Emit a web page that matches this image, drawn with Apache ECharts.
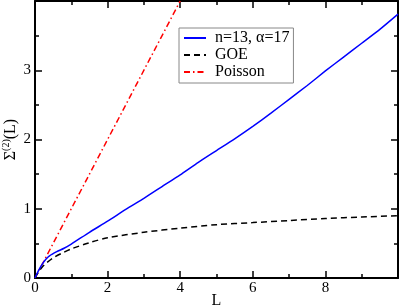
<!DOCTYPE html>
<html><head><meta charset="utf-8">
<script src="https://cdn.jsdelivr.net/npm/echarts@6/dist/echarts.min.js"></script>
<style>html,body{margin:0;padding:0;background:#fff;}#c{width:399px;height:308px;}</style>
</head><body><div id="c"></div>
<script>
const xTicks = [0, 2, 4, 6, 8];
const yTicks = [0, 1, 2, 3];
const blueL   = [0, 0.1, 0.2, 0.3, 0.4, 0.6, 0.8, 1.0, 1.5, 2.0, 2.5, 3.0, 3.5, 4.0, 4.5, 5.0, 5.5, 6.0, 6.5, 7.0, 7.5, 8.0, 8.5, 9.0, 9.5, 10.0];
const blueS   = [0, 0.11, 0.20, 0.27, 0.32, 0.38, 0.43, 0.49, 0.66, 0.82, 0.99, 1.15, 1.32, 1.49, 1.67, 1.84, 2.01, 2.19, 2.38, 2.58, 2.78, 2.99, 3.19, 3.39, 3.59, 3.81];
const goeL    = [0, 0.1, 0.2, 0.3, 0.5, 0.75, 1.0, 1.5, 2.0, 3.0, 4.0, 5.0, 6.0, 7.0, 8.0, 9.0, 10.0];
const goeS    = [0, 0.09, 0.16, 0.21, 0.29, 0.36, 0.42, 0.51, 0.58, 0.66, 0.72, 0.77, 0.80, 0.83, 0.86, 0.88, 0.90];
const poissonL = [0, 4];
const poissonS = [0, 4];
const names = ['n=13, α=17', 'GOE', 'Poisson'];

const zip = (a, b) => a.map((v, i) => [v, b[i]]);
const font = 'Liberation Serif';
const axisCommon = () => ({
  axisLine: {show: true, onZero: false, lineStyle: {color: '#000', width: 2}},
  axisTick: {show: true, inside: true, length: 7, lineStyle: {color: '#000', width: 1.5}},
  minorTick: {show: true, splitNumber: 2, length: 4, lineStyle: {color: '#000', width: 1.5}},
  splitLine: {show: false},
  minorSplitLine: {show: false},
});
const chart = echarts.init(document.getElementById('c'), null, {renderer: 'canvas'});
chart.setOption({
  animation: false,
  backgroundColor: '#fff',
  textStyle: {fontFamily: font},
  grid: {left: 35, right: 1, top: 1, bottom: 30, containLabel: false, outerBoundsMode: 'none'},
  xAxis: [
    Object.assign({type: 'value', min: 0, max: 10, interval: 2, position: 'bottom',
      name: 'L', nameLocation: 'middle', nameGap: 15, nameMoveOverlap: false,
      nameTextStyle: {fontFamily: font, fontSize: 16, color: '#000'},
      axisLabel: {show: true, margin: 3, fontFamily: font, fontSize: 15, color: '#000', showMaxLabel: false,
        formatter: v => xTicks.includes(v) ? String(v) : ''}}, axisCommon()),
    Object.assign({type: 'value', min: 0, max: 10, interval: 2, position: 'top', axisLabel: {show: false}}, axisCommon())
  ],
  yAxis: [
    Object.assign({type: 'value', min: 0, max: 4, interval: 1, position: 'left',
      name: '{s|Σ}{sup|(2)}{s|(L)}', nameLocation: 'middle', nameGap: 15, nameMoveOverlap: false,
      nameTextStyle: {fontFamily: font, fontSize: 16, color: '#000',
        rich: {s: {fontFamily: font, fontSize: 16, color: '#000'},
               sup: {fontFamily: font, fontSize: 10, color: '#000', padding: [0, 0, 9, 0]}}},
      axisLabel: {show: true, margin: 4, fontFamily: font, fontSize: 15, color: '#000', showMaxLabel: false,
        formatter: v => yTicks.includes(v) ? String(v) : ''}}, axisCommon()),
    Object.assign({type: 'value', min: 0, max: 4, interval: 1, position: 'right', axisLabel: {show: false}}, axisCommon())
  ],
  legend: {
    show: true, orient: 'vertical', left: 179, top: 28,
    backgroundColor: '#fff', borderColor: '#888', borderWidth: 1, borderRadius: 0,
    padding: [2, 4, 3, 4], itemWidth: 22, itemHeight: 14, itemGap: 1,
    itemStyle: {opacity: 0},
    textStyle: {fontFamily: font, fontSize: 16, color: '#000', padding: [0, 0, 0, 4],
      rich: {t: {fontFamily: font, fontSize: 16, color: '#000'}}},
    formatter: n => '{t|' + n + '}',
    data: names
  },
  series: [
    {name: names[0], type: 'line', data: zip(blueL, blueS), showSymbol: false, symbol: 'none', smooth: 0.2,
      lineStyle: {color: '#0000ff', width: 1.5}, itemStyle: {color: '#0000ff'}, z: 3},
    {name: names[1], type: 'line', data: zip(goeL, goeS), showSymbol: false, symbol: 'none', smooth: 0.3,
      lineStyle: {color: '#000', width: 1.5, type: [6, 4]}, itemStyle: {color: '#000'}, z: 2},
    {name: names[2], type: 'line', data: zip(poissonL, poissonS), showSymbol: false, symbol: 'none',
      lineStyle: {color: '#ff0000', width: 1.5, type: [6, 3, 1.5, 3]}, itemStyle: {color: '#ff0000'}, z: 1}
  ]
});
</script></body></html>
